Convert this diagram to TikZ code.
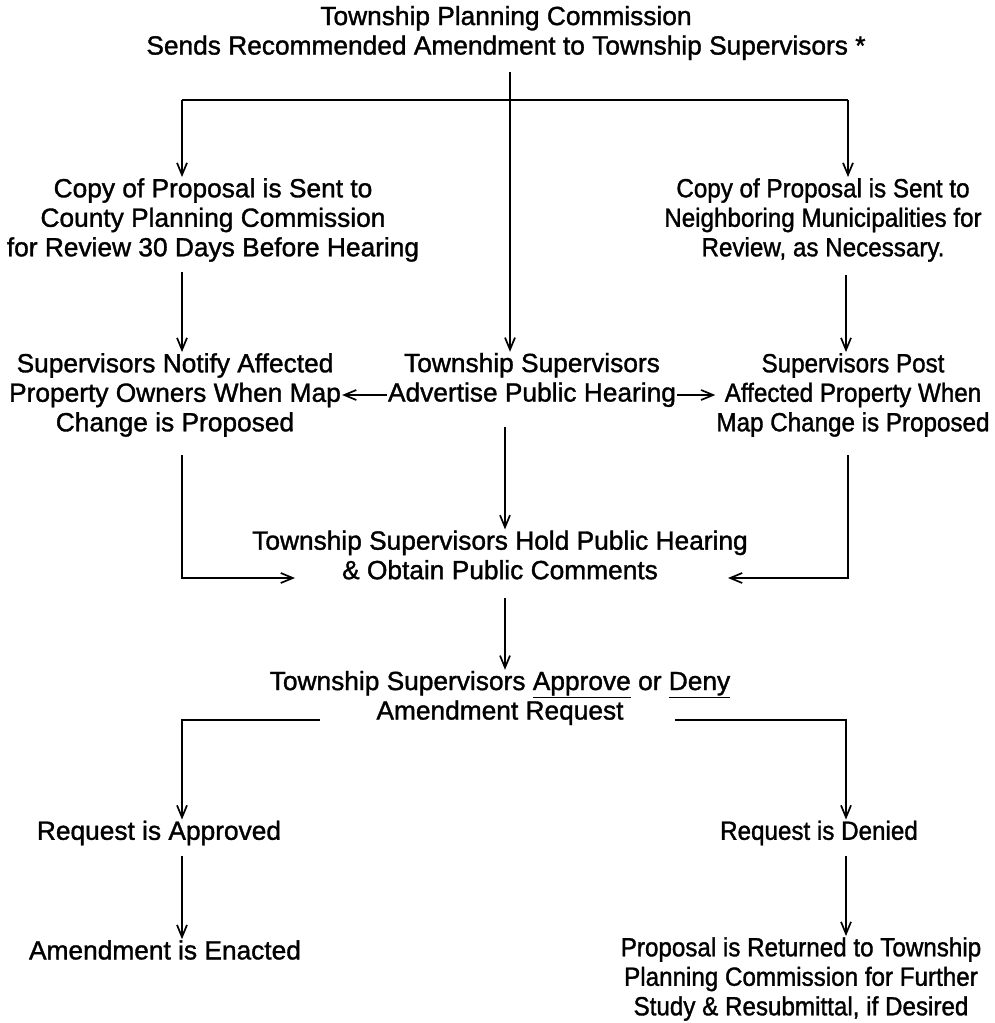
\documentclass[tikz,border=0pt]{standalone}
\usepackage{fontspec}
\setmainfont{Liberation Sans}[FakeBold=1.3]
\newfontfamily\narrowfont{Liberation Sans}[FakeStretch=0.92,FakeBold=1.3]
\usetikzlibrary{arrows.meta}
\tikzset{
  lbl/.style={align=center, inner sep=1pt, font=\fontsize{26.3}{29.5}\selectfont},
  nlbl/.style={lbl, font=\fontsize{26.3}{29.5}\narrowfont},
  conn/.style={line width=1.7pt, -{Straight Barb[length=12pt,width=10pt,line width=1.7pt]}},
  plain/.style={line width=1.7pt}
}
\begin{document}
\begin{tikzpicture}[x=1pt,y=-1pt]
\useasboundingbox (0,0) rectangle (995,1023);
% nodes
\node[lbl] (title) at (506,33) {Township Planning Commission\\Sends Recommended Amendment to Township Supervisors *};
\node[lbl] (county) at (213,220) {Copy of Proposal is Sent to\\County Planning Commission\\for Review 30 Days Before Hearing};
\node[nlbl] (neigh) at (823,220) {Copy of Proposal is Sent to\\Neighboring Municipalities for\\Review, as Necessary.};
\node[lbl] (notify) at (175,395) {Supervisors Notify Affected\\Property Owners When Map\\Change is Proposed};
\node[lbl] (advert) at (532,380) {Township Supervisors\\Advertise Public Hearing};
\node[nlbl] (post) at (853,395) {Supervisors Post\\Affected Property When\\Map Change is Proposed};
\node[lbl] (hold) at (500,555) {Township Supervisors Hold Public Hearing\\\& Obtain Public Comments};
\node[lbl] (decide) at (500,698) {Township Supervisors \underline{Approve} or \underline{Deny}\\Amendment Request};
\node[lbl] (approved) at (159,833) {Request is Approved};
\node[nlbl] (denied) at (819,833) {Request is Denied};
\node[lbl] (enacted) at (165,950) {Amendment is Enacted};
\node[nlbl] (returned) at (801,979) {Proposal is Returned to Township\\Planning Commission for Further\\Study \& Resubmittal, if Desired};
% junction coordinates
\coordinate (t0) at (510,72);
\coordinate (tl) at (182,100);
\coordinate (tr) at (848,100);
\coordinate (l1) at (182,272);
\coordinate (r1) at (846,275);
\coordinate (c1) at (505,427);
\coordinate (l2) at (182,455);
\coordinate (l2b) at (182,578);
\coordinate (hl) at (295,578);
\coordinate (r2) at (848,455);
\coordinate (r2b) at (848,578);
\coordinate (hr) at (728,578);
\coordinate (c2) at (505,598);
\coordinate (dl) at (320,720);
\coordinate (dlc) at (182,720);
\coordinate (dr) at (675,720);
\coordinate (drc) at (846,720);
\coordinate (al) at (182,856);
\coordinate (ar) at (846,856);
% connectors
\draw[conn] (t0) -- (t0 |- advert.north);
\draw[plain] (tl) -- (tr);
\draw[conn] (tl) -- (tl |- county.north);
\draw[conn] (tr) -- (tr |- neigh.north);
\draw[conn] (l1) -- (l1 |- notify.north);
\draw[conn] (r1) -- (r1 |- post.north);
\draw[conn] (notify.east -| advert.west) -- (notify.east);
\draw[conn] (post.west -| advert.east) -- (post.west);
\draw[conn] (c1) -- (c1 |- hold.north);
\draw[conn] (l2) -- (l2b) -- (hl);
\draw[conn] (r2) -- (r2b) -- (hr);
\draw[conn] (c2) -- (c2 |- decide.north);
\draw[conn] (dl) -- (dlc) -- (dlc |- approved.north);
\draw[conn] (dr) -- (drc) -- (drc |- denied.north);
\draw[conn] (al) -- (al |- enacted.north);
\draw[conn] (ar) -- (ar |- returned.north);
\end{tikzpicture}
\end{document}
